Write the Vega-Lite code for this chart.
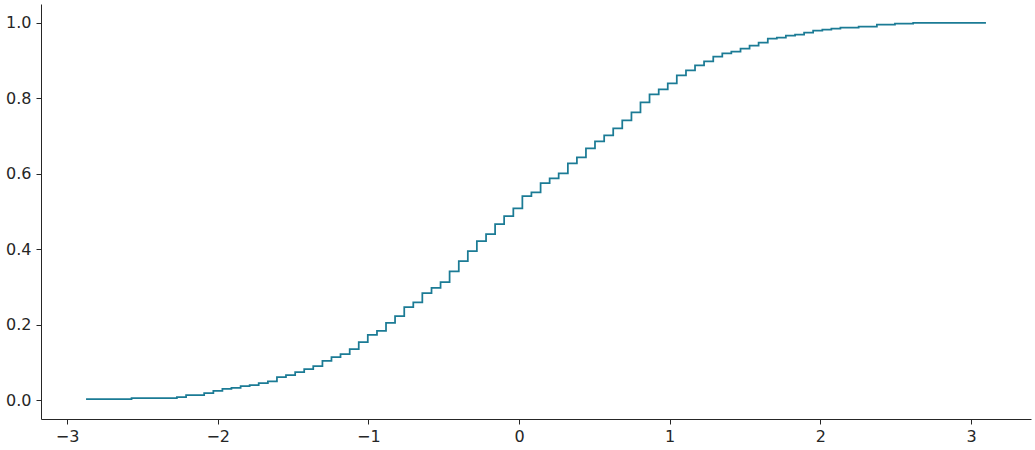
{
  "$schema": "https://vega.github.io/schema/vega-lite/v6.json",
  "width": 990,
  "height": 415,
  "autosize": {"type": "none"},
  "padding": {"left": 41, "top": 4, "right": 4, "bottom": 31},
  "background": "white",
  "config": {
    "view": {"stroke": null},
    "font": "DejaVu Sans",
    "axis": {
      "grid": false,
      "domainColor": "#262626",
      "domainWidth": 1,
      "tickColor": "#262626",
      "tickSize": 5,
      "tickWidth": 1,
      "labelColor": "#262626",
      "labelFont": "DejaVu Sans",
      "labelFontSize": 16,
      "title": null
    }
  },
  "data": {
    "values": [
      {"x": -2.874, "y": 0.0026},
      {"x": -2.572, "y": 0.0053},
      {"x": -2.271, "y": 0.0079},
      {"x": -2.210, "y": 0.0132},
      {"x": -2.090, "y": 0.0185},
      {"x": -2.029, "y": 0.0246},
      {"x": -1.969, "y": 0.0299},
      {"x": -1.909, "y": 0.0325},
      {"x": -1.848, "y": 0.0370},
      {"x": -1.788, "y": 0.0397},
      {"x": -1.728, "y": 0.0450},
      {"x": -1.667, "y": 0.0500},
      {"x": -1.607, "y": 0.0608},
      {"x": -1.547, "y": 0.0661},
      {"x": -1.486, "y": 0.0741},
      {"x": -1.426, "y": 0.0820},
      {"x": -1.366, "y": 0.0900},
      {"x": -1.305, "y": 0.1040},
      {"x": -1.245, "y": 0.1138},
      {"x": -1.185, "y": 0.1217},
      {"x": -1.124, "y": 0.1350},
      {"x": -1.064, "y": 0.1540},
      {"x": -1.004, "y": 0.1728},
      {"x": -0.943, "y": 0.1833},
      {"x": -0.883, "y": 0.2045},
      {"x": -0.823, "y": 0.2230},
      {"x": -0.762, "y": 0.2468},
      {"x": -0.702, "y": 0.2593},
      {"x": -0.642, "y": 0.2836},
      {"x": -0.581, "y": 0.2976},
      {"x": -0.521, "y": 0.3127},
      {"x": -0.461, "y": 0.3413},
      {"x": -0.400, "y": 0.3683},
      {"x": -0.340, "y": 0.3950},
      {"x": -0.280, "y": 0.4214},
      {"x": -0.219, "y": 0.4400},
      {"x": -0.159, "y": 0.4664},
      {"x": -0.099, "y": 0.4880},
      {"x": -0.038, "y": 0.5085},
      {"x": 0.022, "y": 0.5405},
      {"x": 0.082, "y": 0.5510},
      {"x": 0.143, "y": 0.5749},
      {"x": 0.203, "y": 0.5880},
      {"x": 0.263, "y": 0.6013},
      {"x": 0.324, "y": 0.6278},
      {"x": 0.384, "y": 0.6437},
      {"x": 0.444, "y": 0.6675},
      {"x": 0.504, "y": 0.6860},
      {"x": 0.565, "y": 0.7019},
      {"x": 0.625, "y": 0.7204},
      {"x": 0.685, "y": 0.7415},
      {"x": 0.746, "y": 0.7627},
      {"x": 0.806, "y": 0.7892},
      {"x": 0.866, "y": 0.8103},
      {"x": 0.927, "y": 0.8236},
      {"x": 0.987, "y": 0.8394},
      {"x": 1.047, "y": 0.8606},
      {"x": 1.108, "y": 0.8738},
      {"x": 1.168, "y": 0.8870},
      {"x": 1.228, "y": 0.8976},
      {"x": 1.289, "y": 0.9108},
      {"x": 1.349, "y": 0.9188},
      {"x": 1.409, "y": 0.9240},
      {"x": 1.470, "y": 0.9320},
      {"x": 1.530, "y": 0.9400},
      {"x": 1.590, "y": 0.9479},
      {"x": 1.651, "y": 0.9585},
      {"x": 1.711, "y": 0.9611},
      {"x": 1.771, "y": 0.9664},
      {"x": 1.832, "y": 0.9690},
      {"x": 1.892, "y": 0.9743},
      {"x": 1.952, "y": 0.9796},
      {"x": 2.013, "y": 0.9823},
      {"x": 2.073, "y": 0.9849},
      {"x": 2.133, "y": 0.9876},
      {"x": 2.254, "y": 0.9902},
      {"x": 2.375, "y": 0.9955},
      {"x": 2.495, "y": 0.9980},
      {"x": 2.616, "y": 1.0},
      {"x": 3.099, "y": 1.0}
    ]
  },
  "mark": {"type": "line", "interpolate": "step-after", "color": "#1b7b95", "strokeWidth": 1.75},
  "encoding": {
    "x": {
      "field": "x",
      "type": "quantitative",
      "scale": {"domain": [-3.173, 3.398], "nice": false, "zero": false},
      "axis": {"values": [-3, -2, -1, 0, 1, 2, 3], "format": "d", "labelPadding": 4}
    },
    "y": {
      "field": "y",
      "type": "quantitative",
      "scale": {"domain": [-0.05, 1.05], "nice": false, "zero": false},
      "axis": {"values": [0, 0.2, 0.4, 0.6, 0.8, 1.0], "format": ".1f", "labelPadding": 5}
    }
  }
}
